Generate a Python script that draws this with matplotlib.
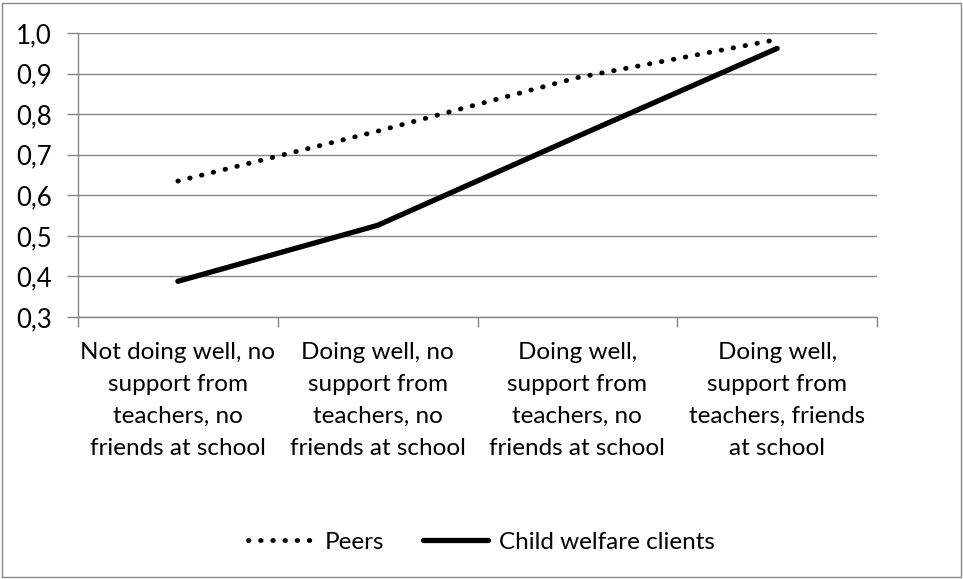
import matplotlib
matplotlib.use("Agg")
from matplotlib import pyplot as plt
from matplotlib.patches import Rectangle
from matplotlib.ticker import FuncFormatter

categories = [
	"Not doing well, no\nsupport from\nteachers, no\nfriends at school",
	"Doing well, no\nsupport from\nteachers, no\nfriends at school",
	"Doing well,\nsupport from\nteachers, no\nfriends at school",
	"Doing well,\nsupport from\nteachers, friends\nat school",
]
peers = [0.635, 0.758, 0.890, 0.984]
childWelfare = [0.388, 0.526, 0.745, 0.962]
yTicks = [0.3, 0.4, 0.5, 0.6, 0.7, 0.8, 0.9, 1.0]

GRAY = "#868686"

plt.rcParams["font.family"] = ["Lato", "DejaVu Sans"]
plt.rcParams["font.size"] = 17.5

fig = plt.figure(figsize = (9.63, 5.79), dpi = 100)
ax = fig.add_axes([78 / 963, 1 - 317 / 579, (877 - 78) / 963, (317 - 33) / 579])

x = list(range(len(categories)))
ax.plot(x, peers, color = "black", linewidth = 3.5, linestyle = (0, (0.1, 2.4)),
		dash_capstyle = "round", label = "Peers")
ax.plot(x, childWelfare, color = "black", linewidth = 3.8, solid_capstyle = "round",
		label = "Child welfare clients")

ax.set_xlim(-0.5, len(categories) - 0.5)
ax.set_ylim(0.3, 1.0)
ax.set_yticks(yTicks)
ax.yaxis.set_major_formatter(FuncFormatter(lambda v, p: "{:.1f}".format(v).replace(".", ",")))
ax.set_xticks(x)
ax.set_xticklabels(categories, linespacing = 1.65)
ax.set_xticks([i - 0.5 for i in range(len(categories) + 1)], minor = True)
ax.tick_params(axis = "x", which = "major", length = 0, pad = 18)
ax.tick_params(axis = "x", which = "minor", length = 7, color = GRAY, width = 1)
ax.tick_params(axis = "y", length = 8, color = GRAY, width = 1, pad = 11, labelsize = 18.5)

ax.grid(axis = "y", color = GRAY, linewidth = 1)
ax.set_axisbelow(True)
for side in ["top", "right"]:
	ax.spines[side].set_visible(False)
for side in ["left", "bottom"]:
	ax.spines[side].set_color(GRAY)
	ax.spines[side].set_linewidth(1)

fig.legend(loc = "center", bbox_to_anchor = (0.5, 1 - 542 / 579), ncol = 2, frameon = False,
		   handlelength = 2.7, columnspacing = 1.6, handletextpad = 0.45)

fig.patches.append(Rectangle((2 / 963, 2 / 579), 959 / 963, 574 / 579, transform = fig.transFigure,
							 fill = False, edgecolor = GRAY, linewidth = 1))

fig.savefig("out.png", dpi = 100)
plt.close()
